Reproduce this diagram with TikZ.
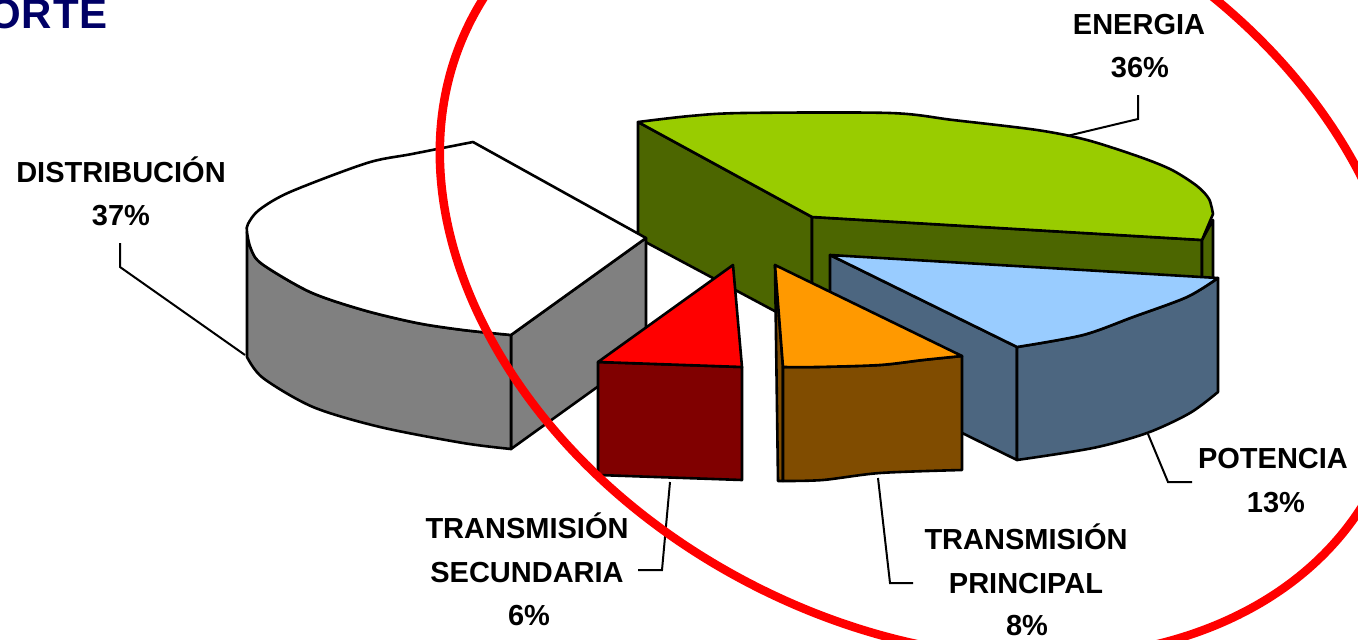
\documentclass[tikz,border=0pt]{standalone}
\usepackage{fontspec}
\setmainfont{Liberation Sans}
\definecolor{grtop}{HTML}{99CC00}
\definecolor{grside}{HTML}{4C6600}
\definecolor{bltop}{HTML}{99CCFF}
\definecolor{blside}{HTML}{4C6680}
\definecolor{ortop}{HTML}{FF9900}
\definecolor{orside}{HTML}{804C00}
\definecolor{rdtop}{HTML}{FF0000}
\definecolor{rdside}{HTML}{800000}
\definecolor{wtside}{HTML}{808080}
\definecolor{navyt}{HTML}{000066}
\begin{document}
\begin{tikzpicture}[x=1pt,y=-1pt,
  face/.style={draw=black, line width=2.6pt, line join=round},
  leader/.style={draw=black, line width=2pt},
  lbl/.style={font=\fontsize{29}{35}\selectfont\bfseries, inner sep=0pt, anchor=base},
  ring/.style={draw=red, line width=8.5pt}]
\useasboundingbox (0,0) rectangle (1358,640);
\clip (0,0) rectangle (1358,640);

% title (cut off at the page edge, as in the source)
\node[anchor=base east, inner sep=0pt, text=navyt, font=\fontsize{42}{46}\selectfont\bfseries] (title) at (108,28) {O\kern1pt R\kern1pt T\kern1pt E};

% ENERGIA slice (green)
\path[face, fill=grside] (638,122) -- (812,217) -- (812,331) -- (638,238) -- cycle;
\path[face, fill=grside] (812,217) -- (1202,240) -- (1202,354) -- (812,331) -- cycle;
\path[face, fill=grside] (1202,240) -- (1213,220) -- (1213,340) -- (1202,354) -- cycle;
\path[face, fill=grtop] plot[smooth] coordinates {(638,122) (690,116) (743,113) (890,113) (953,120) (1037,130) (1087,140) (1140,157) (1172,170) (1197,186) (1209,199) (1213,214)} -- (1202,240) -- (812,217) -- cycle;

% DISTRIBUCION slice (white / grey)
\path[face, fill=wtside] (646,238) -- (511,335) -- (511,449) -- (646,352) -- cycle;
\path[face, fill=wtside] plot[smooth] coordinates {(247,232) (251,249) (262,264) (310,292) (363,310) (417,323) (463,330) (511,335)} -- (511,449) -- plot[smooth] coordinates {(511,449) (463,443) (380,427) (313,407) (263,378) (247,357)} -- cycle;
\path[face, fill=white] plot[smooth] coordinates {(473,142) (412,154) (367,163) (290,192) (259,210) (248,224) (247,232) (251,249) (262,264) (310,292) (363,310) (417,323) (463,330) (511,335)} -- (646,238) -- cycle;

% POTENCIA slice (blue)
\path[face, fill=blside] (830,255) -- (1017,347) -- (1017,460) -- (830,368) -- cycle;
\path[face, fill=blside] plot[smooth] coordinates {(1017,347) (1083,335) (1133,317) (1187,297) (1218,278)} -- (1218,392) -- plot[smooth] coordinates {(1218,392) (1190,413) (1147,433) (1093,448) (1017,460)} -- cycle;
\path[face, fill=bltop] (830,255) -- (1218,278) -- plot[smooth] coordinates {(1218,278) (1187,297) (1133,317) (1083,335) (1017,347)} -- cycle;

% TRANSMISION SECUNDARIA slice (red)
\path[face, fill=rdside] (598,362) -- (742,367) -- (742,480) -- (598,475) -- cycle;
\path[face, fill=rdtop] (598,362) -- (733,265) -- (742,367) -- cycle;

% TRANSMISION PRINCIPAL slice (orange)
\path[face, fill=orside] (775,265) -- (783,367) -- (783,481) -- (778,481) -- cycle;
\path[face, fill=orside] plot[smooth] coordinates {(783,367) (817,367) (880,365) (923,360) (962,356)} -- (962,470) -- plot[smooth] coordinates {(962,470) (880,473) (823,480) (783,481)} -- cycle;
\path[face, fill=ortop] (775,265) -- (962,356) -- plot[smooth] coordinates {(962,356) (923,360) (880,365) (817,367) (783,367)} -- cycle;

% labels
\node[lbl] (distA) at (121,182) {DISTRIBUCIÓN};
\node[lbl] (distB) at (121,225) {37\%};
\node[lbl] (enA) at (1139,34) {ENERGIA};
\node[lbl] (enB) at (1140,77) {36\%};
\node[lbl] (poA) at (1273,468) {POTENCIA};
\node[lbl] (poB) at (1276,512) {13\%};
\node[lbl] (tpA) at (1026,549) {TRANSMISIÓN};
\node[lbl] (tpB) at (1026,593) {PRINCIPAL};
\node[lbl] (tpC) at (1027,635) {8\%};
\node[lbl] (tsA) at (527,538) {TRANSMISIÓN};
\node[lbl] (tsB) at (527,582) {SECUNDARIA};
\node[lbl] (tsC) at (529,625) {6\%};

% leader lines
\coordinate (dA) at (120,243); \coordinate (dB) at (120,267); \coordinate (dC) at (245,355);
\draw[leader] (dA) -- (dB) -- (dC);
\coordinate (eA) at (1138,95); \coordinate (eB) at (1138,119); \coordinate (eC) at (1067,136);
\draw[leader] (eA) -- (eB) -- (eC);
\coordinate (pA) at (1192,482); \coordinate (pB) at (1168,482); \coordinate (pC) at (1148,434);
\draw[leader] (pA) -- (pB) -- (pC);
\coordinate (tA) at (913,583); \coordinate (tB) at (890,583); \coordinate (tC) at (878,478);
\draw[leader] (tA) -- (tB) -- (tC);
\coordinate (sA) at (638,570); \coordinate (sB) at (662,570); \coordinate (sC) at (670,482);
\draw[leader] (sA) -- (sB) -- (sC);

% red highlight ellipse
\draw[ring, shift={(923,252)}, rotate=-27.2] (0,0) ellipse [x radius=508, y radius=374];
\end{tikzpicture}
\end{document}
